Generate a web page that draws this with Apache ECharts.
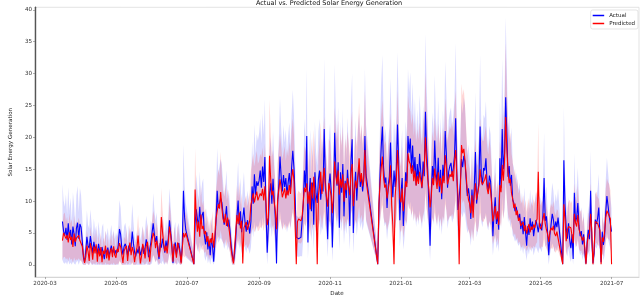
<!DOCTYPE html>
<html><head><meta charset="utf-8">
<script src="https://cdn.jsdelivr.net/npm/echarts@6/dist/echarts.min.js"></script>
<style>html,body{margin:0;padding:0;background:#fff}#c{width:640px;height:302px}</style>
</head><body><div id="c"></div>
<script>
// first day of the series: 2020-03-16, one value per day (null = no reading)
const startDate = [2020, 2, 16];

const actual = [
  6.8,5.2,4.6,5.8,3.9,6.5,4.2,5.5,3.2,6.0,4.8,2.9,5.7,6.6,4.1,6.4,
  5.9,3.8,1.2,0.4,2.1,4.4,3.0,2.6,4.5,3.2,1.8,3.6,2.4,2.9,1.7,3.3,2.2,1.5,2.8,3.1,0.9,2.4,1.9,2.7,1.4,2.2,3.0,1.8,2.5,1.6,
  2.3,1.9,3.1,5.6,4.8,2.7,1.6,2.9,3.3,2.6,1.4,3.0,2.1,2.8,5.2,3.4,2.0,1.3,2.5,1.8,2.9,1.5,2.2,3.0,1.7,2.6,4.0,3.1,1.2,2.4,3.5,
  3.2,6.5,4.8,3.6,4.5,2.1,0.9,3.4,2.7,4.1,3.0,1.9,3.8,2.6,4.2,7.0,5.1,3.3,0.3,2.8,3.5,1.6,2.9,3.4,2.2,0.4,3.1,11.6,7.4,5.5,
  null,null,null,null,null,null,0.1,6.5,8.7,7.2,5.9,9.1,6.4,7.8,8.3,4.6,3.2,5.1,2.4,3.8,1.5,4.2,2.9,0.5,3.6,6.8,11.6,8.9,9.7,10.4,9.8,
  8.1,6.3,7.4,9.2,6.0,7.1,5.4,3.1,1.6,0.4,1.8,4.3,7.6,10.1,6.2,8.4,5.1,7.3,9.0,6.5,5.2,7.0,6.1,4.9,6.8,12.3,9.6,14.2,11.0,13.1,12.4,
  13.2,14.8,12.1,15.4,13.0,16.9,8.5,1.9,6.3,11.2,12.8,9.6,13.5,10.4,7.2,0.2,9.8,12.6,17.0,13.8,11.5,14.1,12.2,13.6,11.0,12.9,14.4,11.8,15.3,17.9,
  15.2,10.6,4.3,4.2,4.1,4.2,4.3,4.2,9.5,14.8,12.1,20.2,3.5,10.8,13.6,8.4,12.9,6.3,14.5,11.2,9.7,13.4,14.8,10.2,12.6,11.5,21.3,13.1,9.8,4.0,12.5,
  14.3,11.6,2.7,9.8,20.7,15.2,12.4,16.1,5.8,14.5,11.3,15.8,7.6,13.2,10.5,14.9,12.0,6.1,16.3,19.7,5.0,11.8,14.6,10.1,13.7,15.4,12.2,14.0,11.5,13.3,
  20.2,14.1,null,null,null,null,null,null,null,null,null,0.1,8.6,14.2,18.5,21.7,15.3,12.8,13.7,8.9,12.4,13.9,19.2,13.5,10.6,14.8,12.2,15.1,22.0,16.4,7.0,
  11.2,13.6,6.1,9.4,14.5,12.8,20.2,17.6,19.8,15.1,18.7,14.2,16.9,12.5,15.8,13.1,17.4,14.6,12.0,16.2,13.9,24.0,18.3,14.7,9.1,3.0,11.4,15.5,13.2,19.5,14.8,
  12.6,16.8,11.4,14.9,10.3,15.7,13.2,21.0,17.4,12.1,14.6,15.5,16.0,13.8,15.2,17.1,23.0,14.1,8.6,10.5,12.9,16.6,15.3,17.1,16.2,13.4,10.8,12.0,
  10.4,7.2,11.8,8.5,12.3,17.7,9.6,11.4,13.0,21.7,14.2,12.5,15.2,14.8,16.7,12.9,11.6,14.0,13.1,9.8,4.5,8.2,10.6,6.4,7.8,5.5,16.7,12.1,21.3,15.0,17.5,
  26.3,20.5,13.8,15.5,12.4,14.1,10.2,9.7,8.4,9.1,8.1,7.2,8.0,5.6,6.9,4.8,7.5,5.2,3.0,6.1,4.7,7.3,5.5,6.8,4.5,5.9,7.0,6.2,5.1,6.6,
  6.2,5.4,7.8,13.6,6.9,7.6,5.1,1.5,4.7,6.3,8.0,7.1,5.4,6.8,5.9,7.4,null,null,null,0.1,16.4,9.2,5.8,4.1,6.5,3.9,2.6,4.8,0.9,11.3,6.7,
  7.4,9.7,6.1,4.5,5.3,3.2,4.8,2.1,0.2,3.6,5.5,4.0,11.6,4.2,0.3,1.8,7.1,6.4,7.3,9.0,4.6,0.4,5.2,3.1,4.4,8.3,10.8,9.2,7.6,6.4,
  5.2
];

const predicted = [
  3.8,5.0,5.2,4.1,4.7,3.5,5.1,3.9,4.4,2.8,4.9,3.6,4.2,3.9,4.6,3.8,
  3.5,2.9,1.5,0.3,1.2,3.0,2.1,0.6,3.4,2.5,0.8,2.9,1.8,3.2,0.5,2.6,1.3,2.8,0.4,2.2,1.7,3.0,1.0,2.4,0.7,1.9,2.6,1.2,2.9,1.5,
  1.1,2.5,2.0,3.4,2.8,1.6,0.3,2.2,1.9,3.0,0.6,2.4,3.5,1.5,2.8,2.0,0.4,1.8,2.6,4.6,2.2,0.2,1.4,3.3,2.5,1.0,2.9,3.6,2.1,0.5,2.7,
  3.9,5.0,4.4,2.6,3.8,2.9,1.2,2.5,7.5,5.2,3.4,2.1,3.0,1.8,3.6,6.0,4.7,2.8,0.5,3.3,2.4,1.1,3.5,2.7,1.9,0.2,2.6,5.0,4.3,5.0,
  null,null,null,null,null,null,0.1,11.8,7.5,5.2,6.8,4.4,7.9,5.6,6.1,4.8,5.3,3.6,4.5,2.9,4.1,3.4,5.0,2.7,4.6,7.2,8.4,9.5,8.8,11.4,9.0,
  7.2,6.6,8.0,6.1,7.4,5.9,4.5,2.4,1.2,0.2,0.1,5.3,7.8,6.4,8.2,5.7,6.9,0.2,5.8,6.3,6.7,5.5,6.2,7.0,9.4,10.3,11.2,9.8,10.7,11.5,10.1,
  10.4,11.2,10.8,11.9,10.1,12.3,9.5,6.2,7.4,17.1,13.5,10.9,11.6,9.8,8.4,5.6,10.2,11.8,13.4,12.1,10.6,11.3,12.0,10.4,11.7,10.9,12.5,11.1,13.6,15.0,
  13.2,6.5,0.1,6.8,7.2,7.0,6.9,7.5,9.8,12.1,11.4,12.8,9.6,11.5,8.7,12.9,10.4,13.8,11.2,9.5,0.1,10.9,12.3,14.6,11.1,13.4,15.2,12.0,10.6,9.1,12.8,
  12.5,10.8,8.1,11.3,16.2,13.9,12.6,14.8,11.0,13.5,12.1,14.2,9.9,12.8,11.7,13.6,12.4,10.9,14.5,15.8,9.2,11.6,13.2,12.0,14.1,16.7,13.0,14.4,12.3,13.8,
  18.0,13.2,null,null,null,null,null,null,null,null,null,0.1,9.5,12.8,15.2,17.0,13.8,12.1,12.6,10.4,11.8,13.0,15.6,9.3,6.2,0.1,10.8,13.4,18.0,14.2,10.5,
  9.8,12.0,8.4,10.6,13.1,12.2,17.5,16.2,15.8,14.3,15.6,13.1,14.8,12.4,13.9,12.7,14.6,13.3,12.1,14.2,15.4,20.0,16.1,13.5,11.8,9.0,10.7,13.6,12.5,15.1,13.4,
  11.9,14.5,12.3,13.6,11.2,14.0,12.8,17.2,15.5,12.6,13.4,14.2,13.8,14.7,13.1,16.2,18.0,13.9,10.8,0.1,11.5,18.8,17.5,18.2,16.4,14.0,11.6,10.2,
  9.6,8.1,10.9,7.4,11.0,12.8,10.2,9.9,12.4,15.0,13.1,12.6,12.6,13.4,14.2,12.0,11.1,12.9,11.6,9.5,6.8,7.9,9.2,7.1,8.4,6.3,12.5,11.4,15.7,13.2,16.4,
  23.2,18.0,14.6,12.8,13.5,11.2,10.4,8.9,9.6,7.8,8.5,6.9,7.4,6.1,5.8,6.7,5.3,6.2,4.9,5.7,6.4,5.1,6.0,5.5,6.3,5.8,6.8,7.2,14.6,6.1,
  5.6,6.2,5.9,8.1,6.4,5.5,4.8,3.6,5.2,5.8,5.4,6.1,4.9,4.5,5.2,5.0,null,null,null,0.1,9.5,7.2,3.7,5.4,6.0,6.2,5.8,6.1,3.4,8.0,6.6,
  6.0,7.8,5.6,4.9,5.1,3.8,4.4,2.7,0.1,3.2,4.6,5.0,8.0,5.3,0.1,2.4,6.8,7.1,6.5,6.3,5.4,0.1,4.3,3.6,5.1,7.4,8.5,8.1,7.9,7.2,
  0.1
];

// relative width of the shaded bands, one value per month (2020-03 .. 2021-07)
const actualBandUp   = [0.65,0.6,0.55,0.5,0.45,0.45,0.45,0.45,0.45,0.45,0.45,0.45,0.45,0.42,0.42,0.42,0.42];
const actualBandDown = [0.75,0.7,0.7,0.6,0.5,0.45,0.45,0.45,0.45,0.45,0.45,0.45,0.45,0.45,0.45,0.45,0.45];
const predBandUp     = [0.35,0.4,0.45,0.45,0.45,0.45,0.45,0.45,0.45,0.45,0.45,0.45,0.45,0.45,0.45,0.45,0.45];
const predBandDown   = [0.6,0.6,0.6,0.55,0.45,0.4,0.4,0.4,0.4,0.4,0.4,0.4,0.4,0.4,0.4,0.4,0.4];

const xTickLabels = ['2020-03','2020-05','2020-07','2020-09','2020-11','2021-01','2021-03','2021-05','2021-07'];
const yTicks = [0,5,10,15,20,25,30,35,40];

function dayDate(i){ return new Date(startDate[0], startDate[1], startDate[2] + i); }
function dayTs(i){ return dayDate(i).getTime(); }
function monthIdx(i){ const d = dayDate(i); return (d.getFullYear()-2020)*12 + d.getMonth() - 2; }
function pairs(arr, fn){ const out=[]; arr.forEach((v,i)=>{ if(v!==null) out.push([dayTs(i), fn(v,i)]); }); return out; }

function lowA(v,i){ return Math.max(0, v*(1-actualBandDown[monthIdx(i)]) - 1); }
function upA(v,i){ return v*(1+actualBandUp[monthIdx(i)]) + 1.5; }
function lowP(v,i){ return Math.max(0, v*(1-predBandDown[monthIdx(i)]) - 0.8); }
function upP(v,i){ return v*(1+predBandUp[monthIdx(i)]) + 1.2; }

function bandData(arr, lo, up){ const out=[]; arr.forEach((v,i)=>{ if(v!==null) out.push([dayTs(i), lo(v,i), up(v,i)]); }); return out; }
const bandA = bandData(actual, lowA, upA);
const bandP = bandData(predicted, lowP, upP);

function bandSeries(data, fill){
  return {
    type: 'custom', silent: true, z: 1, clip: true,
    data: data, encode: {x: 0, y: [1, 2]},
    renderItem: (params, api) => {
      if (params.dataIndex !== 0) return null;
      const pts = [];
      for (let k = 0; k < data.length; k++) pts.push(api.coord([data[k][0], data[k][2]]));
      for (let k = data.length - 1; k >= 0; k--) pts.push(api.coord([data[k][0], data[k][1]]));
      return {type: 'polygon', shape: {points: pts}, style: {fill: fill, stroke: null}};
    }
  };
}

const xTickTs = xTickLabels.map(s => { const p = s.split('-'); return new Date(+p[0], +p[1]-1, 1).getTime(); });
const tsLabel = {};
xTickTs.forEach((t,k) => { tsLabel[t] = xTickLabels[k]; });

const chart = echarts.init(document.getElementById('c'), null, {renderer:'canvas'});
const FONT = 'DejaVu Sans';
chart.setOption({
  animation: false,
  backgroundColor: '#fff',
  textStyle: {fontFamily: FONT},
  graphic: [{
    type: 'text', x: 329, y: 3.5,
    style: {text: 'Actual vs. Predicted Solar Energy Generation', fontSize: 6.5, fontFamily: FONT,
            fill: '#111', textAlign: 'center', textVerticalAlign: 'middle'}
  }],
  grid: {left: 19, right: 1, top: 7.3, bottom: 16.6, show: true, borderColor: '#dcdcdc', borderWidth: 0.8, backgroundColor: 'transparent'},
  legend: {
    right: 2, top: 10, orient: 'vertical', data: ['Actual','Predicted'],
    icon: 'rect', itemWidth: 11.5, itemHeight: 1.5, itemGap: 2,
    padding: [2.5, 3, 2.5, 2], borderColor: '#d8d8d8', borderWidth: 0.7, borderRadius: 2,
    backgroundColor: 'rgba(255,255,255,0.85)',
    textStyle: {fontSize: 5.5, color: '#222', fontFamily: FONT}
  },
  xAxis: {
    type: 'value',
    min: new Date(2020,1,21,10).getTime(), max: new Date(2021,6,24,14).getTime(),
    name: 'Date', nameLocation: 'middle', nameGap: 8.5,
    nameTextStyle: {fontSize: 5.6, color: '#222', fontFamily: FONT},
    axisLine: {show: true, onZero: false, lineStyle: {color: '#cfcfcf', width: 0.8}},
    axisTick: {show: true, length: 2, lineStyle: {color: '#777', width: 0.6}, customValues: xTickTs},
    axisLabel: {fontSize: 5.6, color: '#333', margin: 3, fontFamily: FONT, customValues: xTickTs,
      formatter: v => tsLabel[v] !== undefined ? tsLabel[v] : (() => { const d = new Date(v); return d.getFullYear() + '-' + String(d.getMonth()+1).padStart(2,'0'); })()},
    splitLine: {show: false}
  },
  yAxis: {
    type: 'value', min: -1.93, max: 40.4,
    name: 'Solar Energy Generation', nameLocation: 'middle', nameGap: 11, nameRotate: 90,
    nameTextStyle: {fontSize: 5.6, color: '#222', fontFamily: FONT},
    axisLine: {show: true, onZero: false, lineStyle: {color: '#555', width: 1.4}},
    axisTick: {show: true, length: 2, lineStyle: {color: '#777', width: 0.6}, customValues: yTicks},
    axisLabel: {fontSize: 5.6, color: '#333', margin: 3, fontFamily: FONT, customValues: yTicks},
    splitLine: {show: false}
  },
  series: [
    bandSeries(bandA, 'rgba(0,0,255,0.15)'),
    bandSeries(bandP, 'rgba(255,0,0,0.16)'),
    {name: 'Actual', type: 'line', symbol: 'none', z: 3, color: '#0000ff',
     lineStyle: {color: '#0000ff', width: 1.1}, data: pairs(actual, v => v)},
    {name: 'Predicted', type: 'line', symbol: 'none', z: 4, color: '#ff0000',
     lineStyle: {color: '#ff0000', width: 1.1}, data: pairs(predicted, v => v)}
  ]
});
</script>
</body></html>
